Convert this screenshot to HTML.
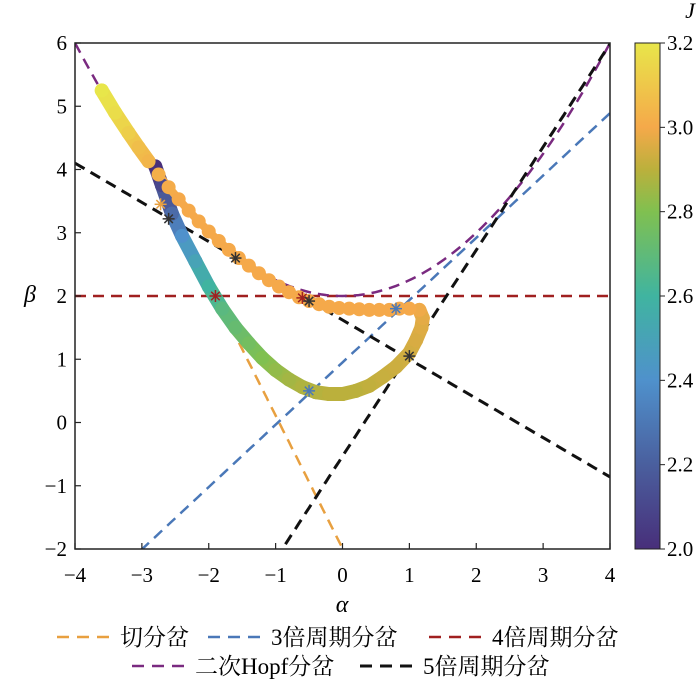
<!DOCTYPE html>
<html><head><meta charset="utf-8"><style>
body{margin:0;background:#fff;}
svg text{font-family:"Liberation Serif","Noto Serif CJK SC",serif;}
</style></head><body>
<svg id="chart" width="700" height="690" xmlns="http://www.w3.org/2000/svg" font-family="Liberation Serif, Noto Serif CJK SC, serif">
<defs>
<linearGradient id="cbgrad" x1="0" y1="1" x2="0" y2="0">
<stop offset="0" stop-color="#482f7a"/><stop offset="0.1667" stop-color="#4a5f9e"/><stop offset="0.3333" stop-color="#4f91cc"/><stop offset="0.5" stop-color="#40b4a0"/><stop offset="0.6667" stop-color="#80c050"/><stop offset="0.75" stop-color="#bbb03c"/><stop offset="0.8333" stop-color="#f5a94a"/><stop offset="1" stop-color="#e8e64a"/>
</linearGradient>
<clipPath id="clip"><rect x="75" y="43" width="535" height="506"/></clipPath>
</defs>
<g id="lines" clip-path="url(#clip)"></g>
<g id="curve" clip-path="url(#clip)"></g>
<g id="marks"></g>
<rect x="75" y="43" width="535" height="506" fill="none" stroke="#222" stroke-width="1.5"/>
<g id="axes"></g>
<rect x="635" y="43" width="25" height="506" fill="url(#cbgrad)" stroke="#222" stroke-width="1"/>
<text x="342" y="612" font-size="24" font-style="italic" text-anchor="middle">α</text>
<text x="30" y="302" font-size="24" font-style="italic" text-anchor="middle">β</text>
<text x="690" y="18" font-size="22" font-style="italic" text-anchor="middle">J</text>
<g id="legend"></g>
</svg>
<script>
const xTicks=[-4,-3,-2,-1,0,1,2,3,4];
const yTicks=[-2,-1,0,1,2,3,4,5,6];
const cTicks=[2.0,2.2,2.4,2.6,2.8,3.0,3.2];
const curveAlpha=[-2.8,-2.7,-2.55,-2.4,-2.2,-2.0,-1.8,-1.6,-1.4,-1.2,-1.0,-0.8,-0.6,-0.4,-0.2,0,0.2,0.4,0.6,0.8,1.0,1.1,1.18,1.2,1.15,1.0,0.85,0.7,0.55,0.4,0.25,0.1,-0.05,-0.2,-0.35,-0.5,-0.65,-0.8,-0.95,-1.1,-1.25,-1.4,-1.55,-1.7,-1.85,-2.0,-2.15,-2.3,-2.45,-2.6,-2.75,-2.9,-3.05,-3.2,-3.4,-3.6];
const curveBeta=[4.05,3.75,3.3,2.95,2.55,2.15,1.8,1.5,1.25,1.02,0.83,0.68,0.56,0.48,0.45,0.45,0.5,0.58,0.72,0.88,1.1,1.3,1.5,1.65,1.78,1.8,1.8,1.78,1.78,1.78,1.79,1.8,1.81,1.83,1.87,1.92,1.98,2.06,2.15,2.25,2.36,2.48,2.6,2.73,2.87,3.02,3.18,3.35,3.53,3.72,3.92,4.13,4.35,4.58,4.9,5.25];
const curveJ=[2.0,2.1,2.25,2.4,2.5,2.6,2.68,2.72,2.76,2.8,2.83,2.86,2.88,2.89,2.9,2.9,2.9,2.91,2.92,2.93,2.94,2.95,2.96,2.97,2.99,3.0,3.0,3.0,3.0,3.0,3.0,3.0,3.0,3.0,3.0,3.0,3.0,3.0,3.0,3.0,3.0,3.0,3.0,3.0,3.0,3.0,3.0,3.0,3.0,3.01,3.02,3.04,3.07,3.12,3.17,3.2];
const starAlpha=[-2.72,-2.6,-1.6,-1.9,-0.6,-0.5,0.8,1.0,-0.5];
const starBeta=[3.45,3.22,2.6,2.0,1.97,1.92,1.8,1.05,0.5];
const starColor=["#e8a040","#333","#333","#a02020","#a02020","#333","#4a78b8","#333","#4a78b8"];
const X=a=>75+(a+4)*535/8, Y=b=>43+(6-b)*506/8;
const NS="http://www.w3.org/2000/svg";
function mk(t,p,at){const e=document.createElementNS(NS,t);for(const k in at)e.setAttribute(k,at[k]);p.appendChild(e);return e;}
const stops=[[2.0,[72,47,122]],[2.2,[74,95,158]],[2.4,[79,145,204]],[2.6,[64,180,160]],[2.8,[128,192,80]],[2.9,[187,176,60]],[3.0,[245,169,74]],[3.2,[232,230,74]]];
function cmap(j){for(let i=0;i<stops.length-1;i++){const[a,ca]=stops[i],[b,cb]=stops[i+1];if(j<=b){const t=Math.max(0,(j-a)/(b-a));return`rgb(${ca.map((c,k)=>Math.round(c+(cb[k]-c)*t)).join(',')})`;}}return'rgb(232,230,74)';}
const axes=document.getElementById('axes');
xTicks.forEach(v=>{const l=mk('line',axes,{x1:X(v),x2:X(v),y1:549,y2:543,stroke:'#222','stroke-width':1.2});
const t=mk('text',axes,{x:X(v),y:582,'font-size':21,'text-anchor':'middle'});t.textContent=v<0?'\u2212'+(-v):v;});
yTicks.forEach(v=>{const l=mk('line',axes,{x1:75,x2:81,y1:Y(v),y2:Y(v),stroke:'#222','stroke-width':1.2});
const t=mk('text',axes,{x:67,y:Y(v)+7,'font-size':21,'text-anchor':'end'});t.textContent=v<0?'\u2212'+(-v):v;});
cTicks.forEach(v=>{const y=549-(v-2)/1.2*506;const l=mk('line',axes,{x1:660,x2:665,y1:y,y2:y,stroke:'#222'});
const t=mk('text',axes,{x:667,y:y+7,'font-size':21});t.textContent=v.toFixed(1);});
const lines=document.getElementById('lines');
const fns=[
['tangent-bifurcation-line','#e8a040',a=>2-2.1*(a+1.9),-3.0,0.1],
['period3-bifurcation-line','#4a78b8',a=>0.985*a+0.95,-4,4],
['period4-bifurcation-line','#a02020',a=>2,-4,4],
['hopf-bifurcation-line','#7a2a80',a=>2+a*a/4,-4,4],
['period5-bifurcation-line-a','#111',a=>1.62-0.62*a,-4,4],
['period5-bifurcation-line-b','#111',a=>1.63*(a+0.9)-2,-1,4]];
fns.forEach(([n,c,f,a0,a1])=>{let d='';for(let i=0;i<=100;i++){const a=a0+(a1-a0)*i/100;d+=(i?'L':'M')+X(a).toFixed(1)+','+Y(f(a)).toFixed(1);}
const p=mk('path',lines,{d,fill:'none',stroke:c,'stroke-width':n.includes('period5')?3:2.5,'stroke-dasharray':'11,7'});});
const cg=document.getElementById('curve');
for(let i=0;i<curveAlpha.length-1;i++){const big=i<24||i>=51;const s=mk('line',cg,{x1:X(curveAlpha[i]),y1:Y(curveBeta[i]),x2:X(curveAlpha[i+1]),y2:Y(curveBeta[i+1]),stroke:cmap((curveJ[i]+curveJ[i+1])/2),'stroke-width':big?14:8,'stroke-linecap':'round'});
}
for(let i=0;i<curveAlpha.length;i++){const c=mk('circle',cg,{cx:X(curveAlpha[i]),cy:Y(curveBeta[i]),r:7,fill:cmap(curveJ[i])});
}
const mg=document.getElementById('marks');
for(let i=0;i<starAlpha.length;i++){const x=X(starAlpha[i]),y=Y(starBeta[i]);const g=mk('g',mg,{stroke:starColor[i],'stroke-width':1.5});

for(let k=0;k<4;k++){const an=k*Math.PI/4;mk('line',g,{x1:x-6*Math.cos(an),y1:y-6*Math.sin(an),x2:x+6*Math.cos(an),y2:y+6*Math.sin(an)});}}
const lg=document.getElementById('legend');
[['切分岔','#e8a040',57,637],['3倍周期分岔','#4a78b8',208,637],['4倍周期分岔','#a02020',429,637],['二次Hopf分岔','#7a2a80',132,666],['5倍周期分岔','#111',360,666]].forEach(([t,c,x,y])=>{
const g=mk('g',lg,{});
mk('line',g,{x1:x,x2:x+60,y1:y,y2:y,stroke:c,'stroke-width':c=='#111'?3:2.5,'stroke-dasharray':'12,8'});
const tx=mk('text',g,{x:x+63,y:y+8,'font-size':23});tx.textContent=t;});
</script>
</body></html>
